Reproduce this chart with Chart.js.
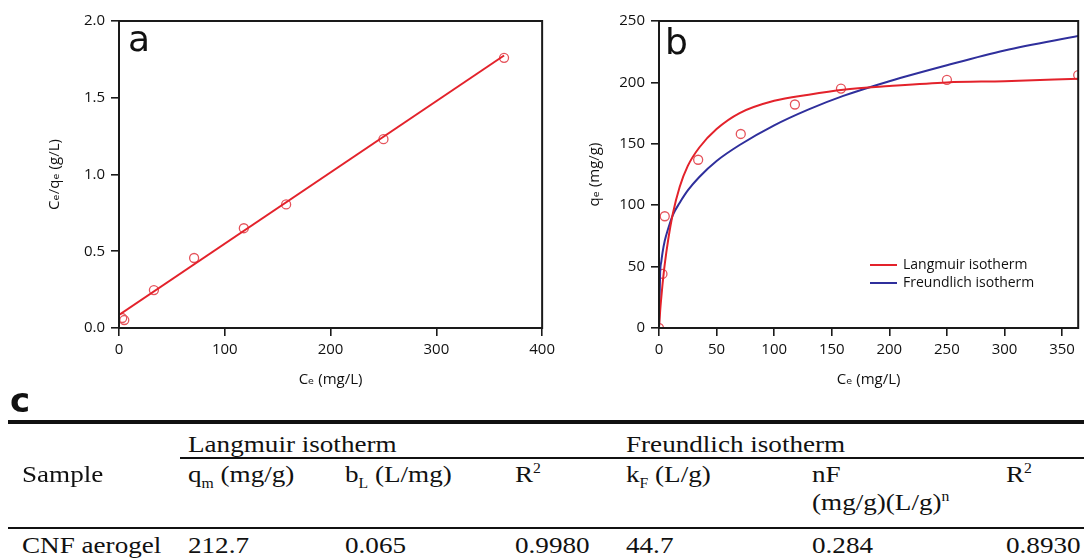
<!DOCTYPE html>
<html lang="en">
<head>
<meta charset="UTF-8">
<title>CNF aerogel adsorption isotherms</title>
<script src="https://cdn.jsdelivr.net/npm/chart.js"></script>
<style>
  body { margin: 0; background: #fff; width: 1084px; height: 559px; position: relative; overflow: hidden; font-family: 'Liberation Serif', serif; color: #111; }
  canvas { position: absolute; top: 0; }
  #chartA { left: 0; }
  #chartB { left: 540px; }
  .letter { position: absolute; font-family: 'DejaVu Sans', sans-serif; font-size: 36px; line-height: 1; color: #111; }
  .rule { position: absolute; background: #111; }
  .cell { position: absolute; font-size: 24px; line-height: 1; white-space: nowrap; transform: scaleX(1.13); transform-origin: 0 0; }
  .cell sub, .cell sup { font-size: 58%; line-height: 0; }
</style>
</head>
<body>

<canvas id="chartA" width="560" height="392"></canvas>
<canvas id="chartB" width="544" height="392"></canvas>
<div class="letter" style="left:128px; top:21px;">a</div>
<div class="letter" style="left:665px; top:24px;">b</div>
<div class="letter" style="left:10px; top:383px; font-size:34px; font-weight:bold;">c</div>

<div class="rule" style="left:8px; right:0; top:420px; height:4px;"></div>
<div class="rule" style="left:180px; right:0; top:457px; height:2px;"></div>
<div class="rule" style="left:8px; right:0; top:527px; height:2px;"></div>
<div id="table"></div>

<script>
  // panel a: linearised Langmuir plot
  const ceA = [3, 5, 33, 71, 118, 158, 250, 364];
  const ratioA = [0.065, 0.052, 0.247, 0.456, 0.65, 0.805, 1.23, 1.76];
  const fitCeA = [0, 364];
  const fitRatioA = [0.085, 1.775];
  const xTicksA = [0, 100, 200, 300, 400];
  const yTicksA = [0, 0.5, 1, 1.5, 2];

  // panel b: isotherm data and the two fitted curves
  const ceB = [0, 3, 5, 34, 71, 118, 158, 250, 364];
  const qB = [0, 44, 91, 137, 158, 182, 195, 202, 206];
  const curveCe = [0, 1, 2, 3, 5, 8, 12, 18, 25, 35, 50, 70, 100, 130, 160, 200, 250, 300, 365];
  const langmuirQ = [0, 14, 25, 35, 52, 72, 93, 115, 132, 147, 162, 175, 185, 190, 194, 197, 200, 201, 203];
  const freundlichQ = [0, 45, 54, 61, 71, 81, 92, 102, 112, 123, 136, 149, 165, 178, 189, 201, 214, 226, 238];
  const xTicksB = [0, 50, 100, 150, 200, 250, 300, 350];
  const yTicksB = [0, 50, 100, 150, 200, 250];

  // panel c: table
  const groupHeaders = ['Langmuir isotherm', 'Freundlich isotherm'];
  const columnHeaders = ['q<sub>m</sub> (mg/g)', 'b<sub>L</sub> (L/mg)', 'R<sup>2</sup>', 'k<sub>F</sub> (L/g)', 'nF', 'R<sup>2</sup>'];
  const sampleNames = ['CNF aerogel'];
  const rowValues = [['212.7', '0.065', '0.9980', '44.7', '0.284', '0.8930']];

  const RED = '#e3222b';
  const BLUE = '#2f2f9c';
  const POINT = '#e5545c';
  const tickFont = { family: "'Open Sans', 'DejaVu Sans', sans-serif", size: 15 };
  const titleFont = { family: "'Open Sans', 'DejaVu Sans', sans-serif", size: 15 };

  const pairs = (xs, ys) => xs.map((x, i) => ({ x: x, y: ys[i] }));

  const frame = {
    id: 'frame',
    afterDraw(chart) {
      const { ctx, chartArea: a } = chart;
      ctx.save();
      ctx.strokeStyle = '#1a1a1a';
      ctx.lineWidth = 2;
      ctx.strokeRect(a.left, a.top, a.right - a.left, a.bottom - a.top);
      ctx.restore();
    }
  };

  const insideLegend = {
    id: 'insideLegend',
    afterDatasetsDraw(chart, args, opts) {
      if (!opts.show) return;
      const { ctx, chartArea: a } = chart;
      ctx.save();
      ctx.font = "14px 'Open Sans', 'DejaVu Sans', sans-serif";
      ctx.textBaseline = 'middle';
      ctx.fillStyle = '#111';
      let y = a.top + 244;
      chart.data.datasets.filter(d => d.inLegend).forEach(d => {
        ctx.strokeStyle = d.borderColor;
        ctx.lineWidth = 2;
        ctx.beginPath();
        ctx.moveTo(a.left + 211, y);
        ctx.lineTo(a.left + 238, y);
        ctx.stroke();
        ctx.fillText(d.label, a.left + 244, y);
        y += 18;
      });
      ctx.restore();
    }
  };

  function axis(ticks, min, max, title, fmt, isY) {
    return {
      type: 'linear',
      min: min,
      max: max,
      afterBuildTicks: s => { s.ticks = ticks.map(v => ({ value: v })); },
      afterFit: s => { if (isY) s.width = 119; else s.height = 64; },
      border: { display: false },
      grid: { drawOnChartArea: false, drawTicks: true, tickLength: 8, color: '#1a1a1a', lineWidth: 1.6 },
      ticks: { font: tickFont, color: '#111', padding: isY ? 6 : 5, maxRotation: 0, callback: fmt },
      title: {
        display: true, text: title, font: titleFont, color: '#111',
        padding: isY ? { top: 46, bottom: 0 } : { top: 0, bottom: 3 }
      }
    };
  }

  const baseOptions = (layoutRight, legend) => ({
    responsive: false,
    animation: false,
    layout: { padding: { top: 21, right: layoutRight, left: 0, bottom: 0 } },
    plugins: { legend: { display: false }, tooltip: { enabled: false }, insideLegend: { show: legend } }
  });

  new Chart(document.getElementById('chartA'), {
    type: 'scatter',
    data: {
      datasets: [
        { data: pairs(fitCeA, fitRatioA), showLine: true, borderColor: RED, borderWidth: 2, pointRadius: 0 },
        { data: pairs(ceA, ratioA), pointStyle: 'circle', pointRadius: 4.5, borderColor: POINT, borderWidth: 1.3, backgroundColor: 'transparent' }
      ]
    },
    options: Object.assign(baseOptions(17, false), {
      scales: {
        x: axis(xTicksA, 0, 400, 'C\u2091 (mg/L)', v => v, false),
        y: axis(yTicksA, 0, 2, 'C\u2091/q\u2091 (g/L)', v => v.toFixed(1), true)
      }
    }),
    plugins: [frame, insideLegend]
  });

  new Chart(document.getElementById('chartB'), {
    type: 'scatter',
    data: {
      datasets: [
        { label: 'Langmuir isotherm', inLegend: true, data: pairs(curveCe, langmuirQ), showLine: true, cubicInterpolationMode: 'monotone', borderColor: RED, borderWidth: 2, pointRadius: 0 },
        { label: 'Freundlich isotherm', inLegend: true, data: pairs(curveCe, freundlichQ), showLine: true, cubicInterpolationMode: 'monotone', borderColor: BLUE, borderWidth: 2, pointRadius: 0 },
        { data: pairs(ceB, qB), pointStyle: 'circle', pointRadius: 4.5, borderColor: POINT, borderWidth: 1.3, backgroundColor: 'transparent' }
      ]
    },
    options: Object.assign(baseOptions(2, true), {
      scales: {
        x: axis(xTicksB, 0, 364, 'C\u2091 (mg/L)', v => v, false),
        y: axis(yTicksB, 0, 250, 'q\u2091 (mg/g)', v => v, true)
      }
    }),
    plugins: [frame, insideLegend]
  });

  // table text, placed by baseline rows
  const colX = [188, 345, 515, 626, 812, 1006];
  const table = document.getElementById('table');
  const cell = (html, left, baseline) => {
    const d = document.createElement('div');
    d.className = 'cell';
    d.innerHTML = html;
    d.style.left = left + 'px';
    d.style.top = (baseline - 20) + 'px';
    table.appendChild(d);
  };
  cell(groupHeaders[0], colX[0], 452);
  cell(groupHeaders[1], colX[3], 452);
  cell('Sample', 22, 482);
  columnHeaders.forEach((h, i) => cell(h, colX[i], 482));
  cell('(mg/g)(L/g)<sup>n</sup>', colX[4], 510);
  sampleNames.forEach((name, r) => {
    cell(name, 22, 553);
    rowValues[r].forEach((v, i) => cell(v, colX[i], 553));
  });
</script>

</body>
</html>
